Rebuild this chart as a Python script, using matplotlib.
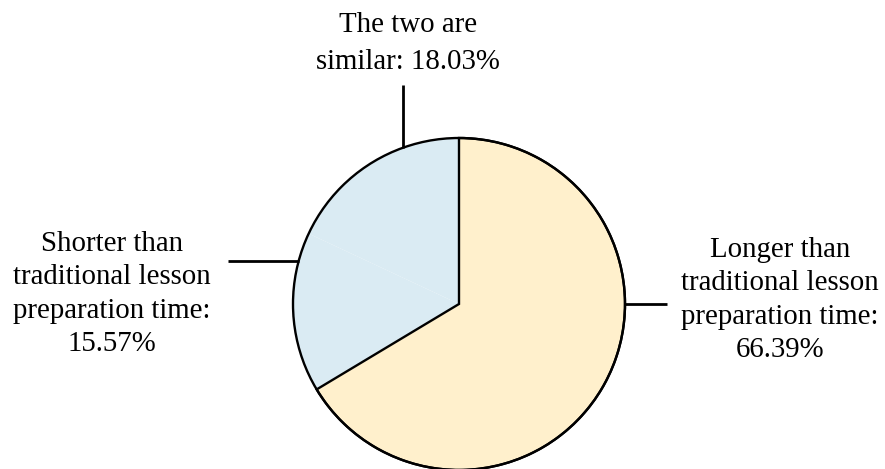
import numpy as np
import matplotlib
matplotlib.use("Agg")
import matplotlib.pyplot as plt
from matplotlib.patches import Circle

# Survey shares of lesson-preparation time compared with traditional preparation
categories = [
    "Longer than\ntraditional lesson\npreparation time:",
    "Shorter than\ntraditional lesson\npreparation time:",
    "The two are\nsimilar:",
]
shares = [66.39, 15.57, 18.03]
colors = ["#FFF0CC", "#DAEBF3", "#DAEBF3"]

W, H = 885, 469
fig = plt.figure(figsize=(W / 100, H / 100), dpi=100)
ax = fig.add_axes([0, 0, 1, 1])

# work in pixel units with the origin at the bottom-left
cx, cy, r = 459, H - 304, 166
wedges, _ = ax.pie(shares, colors=colors, startangle=90, counterclock=False,
                   center=(cx, cy), radius=r, frame=True,
                   wedgeprops=dict(linewidth=0))
# outline the large slice and the whole disc; the two blue slices read as one block
wedges[0].set_edgecolor("black")
wedges[0].set_linewidth(1.7)
wedges[0].set_zorder(3)
ax.add_patch(Circle((cx, cy), r, fill=False, edgecolor="black", lw=1.7, zorder=4))

font = dict(family="Liberation Serif", size=20.8, color="black")

def on_rim(deg):
    t = np.radians(deg)
    return cx + r * np.cos(t), cy + r * np.sin(t)

# leader lines
x0, y0 = on_rim(0)
ax.plot([x0, 667], [y0, y0], color="black", lw=2, zorder=5, solid_capstyle="butt")
x1, y1 = on_rim(165)
ax.plot([228, x1], [y1, y1], color="black", lw=2, zorder=5, solid_capstyle="butt")
x2, y2 = on_rim(109.7)
ax.plot([x2, x2], [y2, H - 85], color="black", lw=2, zorder=5, solid_capstyle="butt")

labels = [f"{c} {s:.2f}%" if c.endswith("similar:") else f"{c}\n{s:.2f}%"
          for c, s in zip(categories, shares)]
ax.text(780, H - 300, labels[0], ha="center", va="center", linespacing=1.38, **font)
ax.text(112, H - 294, labels[1], ha="center", va="center", linespacing=1.38, **font)
ax.text(408, H - 43, labels[2], ha="center", va="center", linespacing=1.55, **font)

ax.set_xlim(0, W)
ax.set_ylim(0, H)
ax.set_aspect("equal")
ax.axis("off")

fig.savefig("out.png", dpi=100)
